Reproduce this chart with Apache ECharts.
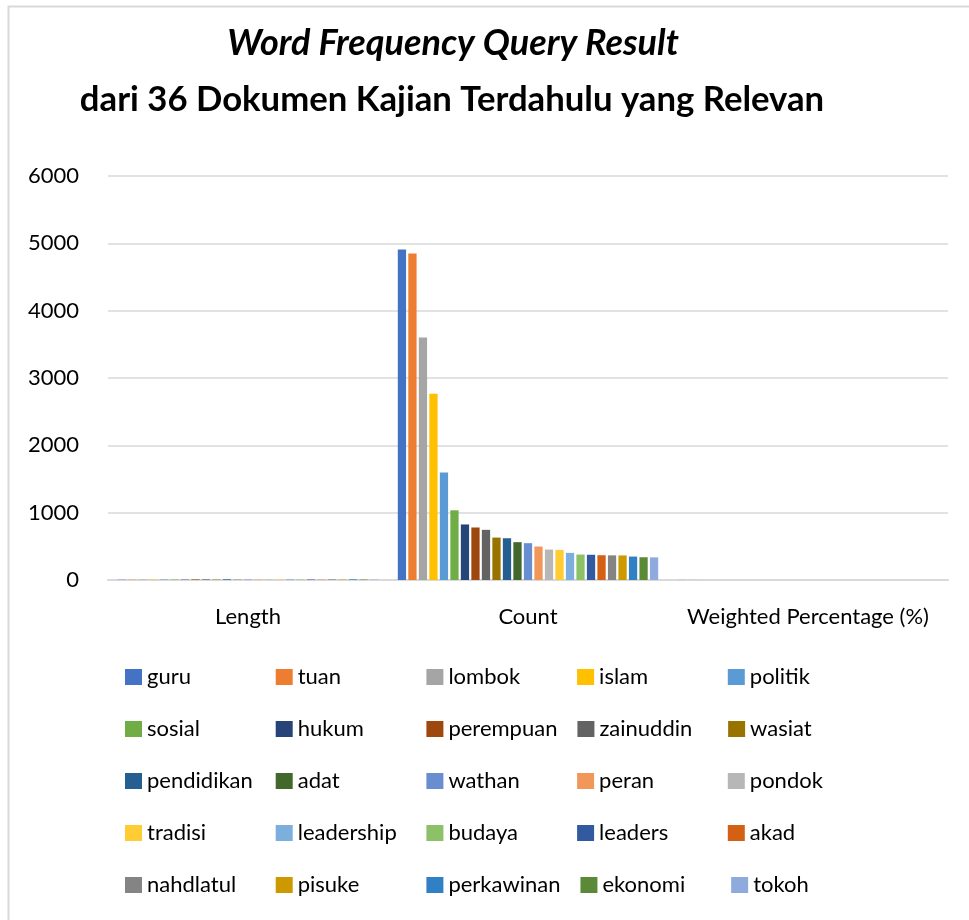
<!DOCTYPE html>
<html>
<head>
<meta charset="utf-8">
<title>Word Frequency Query Result</title>
<script src="https://cdn.jsdelivr.net/npm/echarts@6/dist/echarts.min.js"></script>
<style>
  html, body { margin: 0; padding: 0; background: #ffffff; }
  #chart { width: 969px; height: 920px; }
</style>
</head>
<body>
<div id="chart"></div>
<script>
// Measures shown on the category axis
const categories = ['Length', 'Count', 'Weighted Percentage (%)'];

// Words returned by the query
const words = ['guru', 'tuan', 'lombok', 'islam', 'politik',
  'sosial', 'hukum', 'perempuan', 'zainuddin', 'wasiat',
  'pendidikan', 'adat', 'wathan', 'peran', 'pondok',
  'tradisi', 'leadership', 'budaya', 'leaders', 'akad',
  'nahdlatul', 'pisuke', 'perkawinan', 'ekonomi', 'tokoh'];

// Word length (characters)
const lengths = [4, 4, 6, 5, 7, 6, 5, 9, 9, 6, 10, 4, 6, 5, 6, 7, 10, 6, 7, 4, 9, 6, 10, 7, 5];

// Occurrence count
const counts = [4910, 4850, 3600, 2765, 1595, 1035, 825, 780, 745, 630,
  620, 562, 547, 497, 452, 447, 403, 378, 375, 368, 366, 365, 348, 338, 336];

// Weighted percentage
const weighted = [1.12, 1.10, 0.82, 0.63, 0.36, 0.24, 0.19, 0.18, 0.17, 0.14,
  0.14, 0.13, 0.12, 0.11, 0.10, 0.10, 0.09, 0.09, 0.09, 0.08, 0.08, 0.08, 0.08, 0.08, 0.08];

// Value axis ticks
const yTicks = [0, 1000, 2000, 3000, 4000, 5000, 6000];

// Series colours
const palette = ['#4472C4', '#ED7D31', '#A5A5A5', '#FFC000', '#5B9BD5',
  '#70AD47', '#264478', '#9E480E', '#636363', '#997300',
  '#255E91', '#43682B', '#698ED0', '#F1975A', '#B7B7B7',
  '#FFCD33', '#7CAFDD', '#8CC168', '#335AA1', '#D46014',
  '#848484', '#CC9A00', '#3180C6', '#5A8A38', '#8FAADC'];

const FONT = 'Lato, "Open Sans", sans-serif';

const series = words.map((w, i) => ({
  name: w,
  type: 'bar',
  data: [lengths[i], counts[i], weighted[i]],
  barGap: '27%',
  barCategoryGap: '7%',
  itemStyle: { color: palette[i] },
  emphasis: { disabled: true }
}));

const chart = echarts.init(document.getElementById('chart'), null, { renderer: 'canvas' });

chart.setOption({
  backgroundColor: '#ffffff',
  animation: false,
  color: palette,
  title: [
    {
      text: 'Word Frequency Query Result',
      left: 448, top: 20, textAlign: 'center',
      textStyle: { fontFamily: FONT, fontSize: 36, fontWeight: 'bold', fontStyle: 'italic', color: '#000000' }
    },
    {
      text: 'dari 36 Dokumen Kajian Terdahulu yang Relevan',
      left: 447, top: 77, textAlign: 'center',
      textStyle: { fontFamily: FONT, fontSize: 34.7, fontWeight: 'bold', color: '#000000' }
    }
  ],
  graphic: [
    {
      type: 'rect',
      shape: { x: 8.5, y: 6.5, width: 1000, height: 1000 },
      style: { fill: 'none', stroke: '#d9d9d9', lineWidth: 2 },
      silent: true
    }
  ],
  legend: {
    data: words,
    left: 125,
    top: 661,
    padding: 0,
    width: 760,
    itemWidth: 17,
    itemHeight: 16,
    itemGap: 20,
    icon: 'rect',
    textStyle: {
      fontFamily: FONT, fontSize: 22, color: '#000000',
      width: 108.7, lineHeight: 32, overflow: 'none'
    }
  },
  grid: { left: 108, right: 21, top: 176, bottom: 340, containLabel: false },
  xAxis: {
    type: 'category',
    data: categories,
    axisLine: { show: true, lineStyle: { color: '#d9d9d9', width: 2 } },
    axisTick: { show: false },
    axisLabel: { interval: 0, fontFamily: FONT, fontSize: 22, color: '#000000', margin: 26 }
  },
  yAxis: {
    type: 'value',
    min: yTicks[0],
    max: yTicks[yTicks.length - 1],
    interval: yTicks[1] - yTicks[0],
    axisLine: { show: false },
    axisTick: { show: false },
    splitLine: { lineStyle: { color: '#d9d9d9', width: 1.5 } },
    axisLabel: {
      fontFamily: FONT, fontSize: 22, color: '#000000', margin: 29,
      formatter: v => String(v)
    }
  },
  series: series
});
</script>
</body>
</html>
